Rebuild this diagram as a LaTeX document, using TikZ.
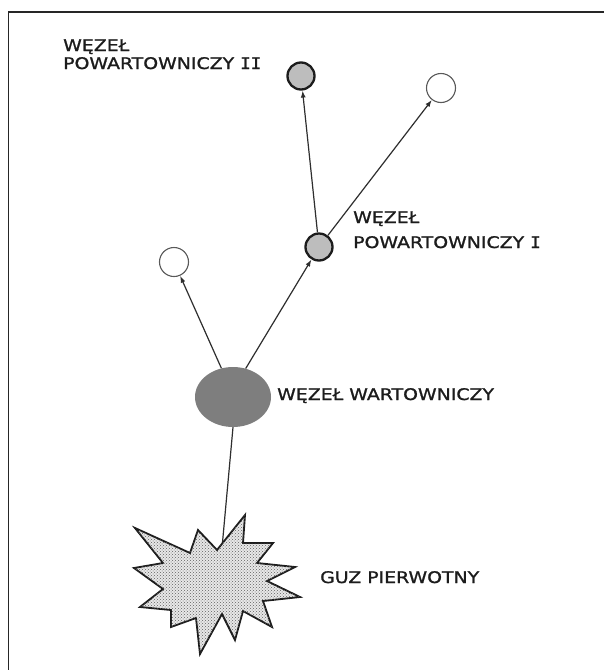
\documentclass[tikz,border=0pt]{standalone}
\usepackage{fontspec}
\newfontfamily\labfont[FakeStretch=1.18,FakeBold=1.2]{DejaVu Sans}
\newfontfamily\romfont[FakeStretch=1.1,FakeBold=1.2]{DejaVu Sans Mono}
\usetikzlibrary{arrows.meta,shapes.geometric,patterns}
\definecolor{ink}{HTML}{1C1C1C}
\definecolor{linec}{HTML}{2E2E2E}
\definecolor{sentfill}{HTML}{7E7E7E}
\definecolor{nodefill}{HTML}{BDBDBD}
\begin{document}
\begin{tikzpicture}[x=1pt,y=-1pt,
  graycirc/.style={circle,draw=ink,line width=2.3pt,fill=nodefill,minimum size=27pt,inner sep=0pt},
  whitecirc/.style={circle,draw=gray!70!black,line width=1.1pt,fill=white,minimum size=29pt,inner sep=0pt},
  sentinel/.style={ellipse,fill=sentfill,draw=none,minimum width=76pt,minimum height=60pt,inner sep=0pt},
  arr/.style={draw=linec,line width=1.2pt,-{Latex[length=7pt,width=5pt]}},
  plain/.style={draw=linec,line width=1.2pt},
  lab/.style={inner sep=0pt,text=ink,font=\labfont\fontsize{16}{19}\selectfont,align=left}
]
\useasboundingbox (0,0) rectangle (604,670);
\fill[white] (0,0) rectangle (604,670);
% frame
\draw[line width=1.7pt,black!85] (8,12) -- (604,12);
\draw[line width=1pt,black!85] (8,12) -- (8,670);

% nodes
\node[graycirc] (p2) at (301,76) {};
\node[whitecirc] (w2) at (441,88) {};
\node[graycirc] (p1) at (319,247) {};
\node[whitecirc] (w1) at (174,262) {};
\node[sentinel] (s) at (233,397) {};
\coordinate (gtop) at (222,548);

% connectors
\draw[plain] (s.south) -- (gtop);
\draw[arr] (s.112) -- (w1);
\draw[arr] (s.66) -- (p1);
\draw[arr] (p1) -- (p2);
\draw[arr] (p1) -- (w2);

% tumour star
\draw[line width=1.8pt,draw=ink,miter limit=20,
      preaction={fill=gray!18},
      postaction={pattern=crosshatch dots,pattern color=gray!75!black}]
  (135,528) -- (190,553) -- (198,530) -- (217,550) -- (245,515) -- (243,543)
  -- (273,543) -- (257,563) -- (295,567) -- (267,581) -- (300,597) -- (263,601)
  -- (272,627) -- (243,611) -- (235,640) -- (222,614) -- (200,654) -- (196,618)
  -- (171,627) -- (171,610) -- (140,607) -- (163,589) -- (134,568) -- (163,563) -- cycle;

% labels
\node[lab,anchor=base west] (l2) at (63,69) {WĘZEŁ\\[-1pt]POWARTOWNICZY\kern6pt{\romfont II}};
\node[lab,anchor=base west] (l1) at (353,248) {WĘZEŁ\\[6pt]POWARTOWNICZY\kern6pt{\romfont I}};
\node[lab,anchor=base west] (ls) at (277,400) {WĘZEŁ WARTOWNICZY};
\node[lab,anchor=base west] (lg) at (320,583) {GUZ PIERWOTNY};
\end{tikzpicture}
\end{document}
